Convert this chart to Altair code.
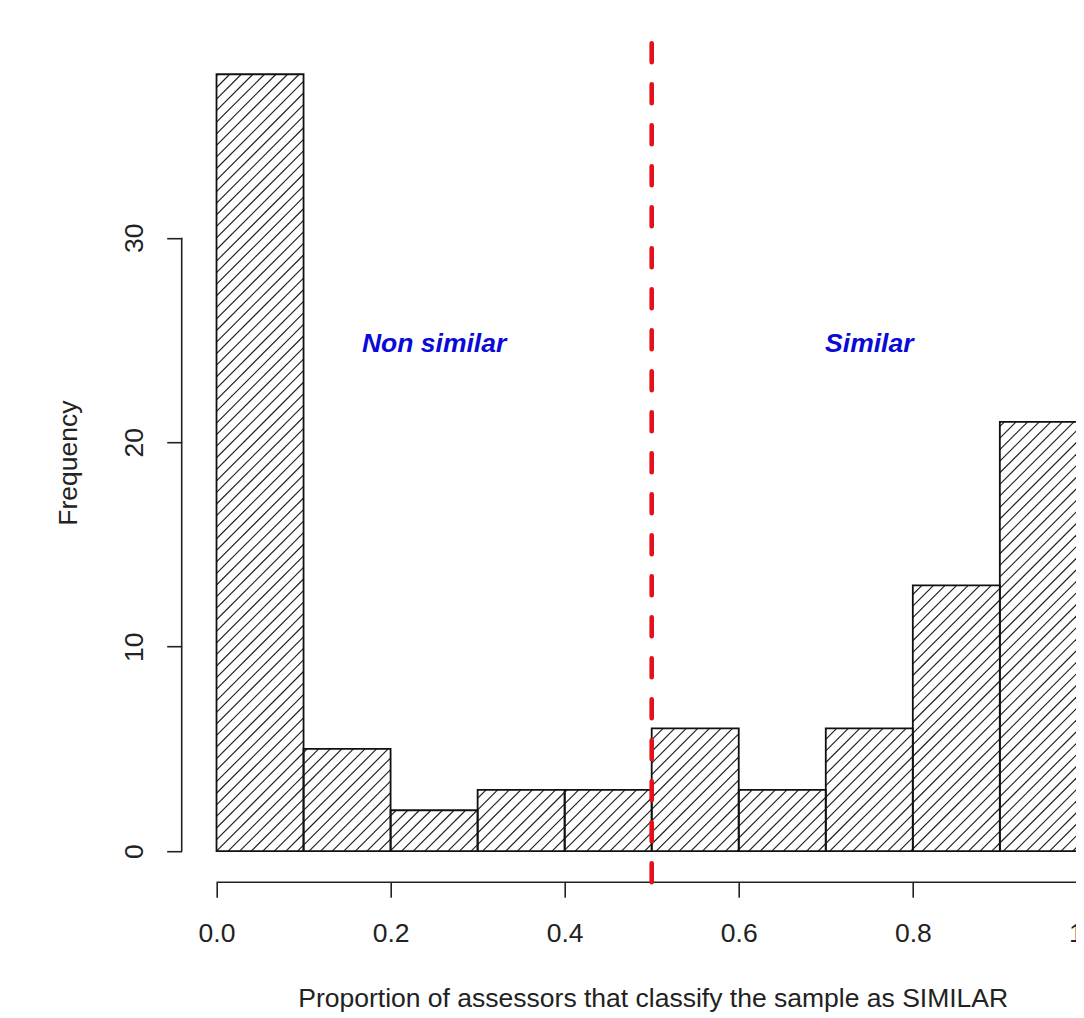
import altair as alt
import numpy as np
import pandas as pd

# ---------------- data ----------------
bin_start = [0.0, 0.1, 0.2, 0.3, 0.4, 0.5, 0.6, 0.7, 0.8, 0.9]
bin_end = [0.1, 0.2, 0.3, 0.4, 0.5, 0.6, 0.7, 0.8, 0.9, 1.0]
counts = [38, 5, 2, 3, 3, 6, 3, 6, 13, 21]
x_ticks = [0.0, 0.2, 0.4, 0.6, 0.8, 1.0]
y_ticks = [0, 10, 20, 30]
cutoff = [0.5]
label_text = ["Non similar", "Similar"]
label_x = [0.25, 0.75]
label_y = [25, 25]
x_title = "Proportion of assessors that classify the sample as SIMILAR"
y_title = "Frequency"

# ---------------- layout / style ----------------
W, H = 940, 839
X_DOM = [-0.04, 1.04]
Y_DOM = [-1.52, 39.52]
PXX = W / (X_DOM[1] - X_DOM[0])
PXY = H / (Y_DOM[1] - Y_DOM[0])
HATCH = 11.57  # px between hatch lines (horizontal)
FONT = "Liberation Sans"
FS = 26.5
INK = "#222222"
PAD_L, PAD_T = 173.7, 35.2
SVG_W, SVG_H = 1068, 1010

bars = pd.DataFrame({"x0": bin_start, "x1": bin_end, "n": counts,
                     "base": [0] * len(counts)})

# hatch segments (45 degree lines on a grid anchored at the origin, like R)
rows = []
for x0, x1, n in zip(bin_start, bin_end, counts):
    X0, X1, Hp = x0 * PXX, x1 * PXX, n * PXY
    k0 = int(np.ceil((X0 - Hp) / HATCH))
    k1 = int(np.floor(X1 / HATCH))
    for k in range(k0, k1 + 1):
        c = k * HATCH
        lo = max(0.0, X0 - c)
        hi = min(Hp, X1 - c)
        if hi - lo > 0.5:
            rows.append({"hx": (lo + c) / PXX, "hy": lo / PXY,
                         "hx2": (hi + c) / PXX, "hy2": hi / PXY})
hatch = pd.DataFrame(rows)

xs = alt.Scale(domain=X_DOM, nice=False, zero=False)
ys = alt.Scale(domain=Y_DOM, nice=False, zero=False)

x_axis = alt.Axis(values=x_ticks, format=".1f", title=x_title, domain=False,
                  grid=False, ticks=True, tickSize=15, tickWidth=1.6,
                  tickColor=INK, labelFont=FONT, labelFontSize=FS,
                  labelColor=INK, labelPadding=44, labelBaseline="alphabetic",
                  labelAlign="center", labelFlush=False, labelOverlap=False,
                  titleFont=FONT, titleFontSize=FS, titleFontWeight="normal",
                  titleColor=INK, titleX=471, titleY=124,
                  titleBaseline="alphabetic", titleAlign="center")
y_axis = alt.Axis(values=y_ticks, title=y_title, domain=False, grid=False,
                  ticks=True, tickSize=15, tickWidth=1.6, tickColor=INK,
                  labelFont=FONT, labelFontSize=FS, labelColor=INK,
                  labelAngle=270, labelAlign="center",
                  labelBaseline="alphabetic", labelPadding=24,
                  labelFlush=False, labelOverlap=False,
                  titleFont=FONT, titleFontSize=FS, titleFontWeight="normal",
                  titleColor=INK, titleAngle=270, titleX=-105, titleY=419.5,
                  titleBaseline="alphabetic", titleAlign="center")


def X(field):
    return alt.X(field, scale=xs, axis=x_axis, title=x_title)


def Y(field):
    return alt.Y(field, scale=ys, axis=y_axis, title=y_title)


hatch_layer = alt.Chart(hatch).mark_rule(color="#1e1e1e", strokeWidth=1.15).encode(
    x=X("hx:Q"), y=Y("hy:Q"), x2="hx2:Q", y2="hy2:Q",
)

bar_layer = alt.Chart(bars).mark_rect(
    fill="white", fillOpacity=0, stroke="#111111", strokeWidth=1.8
).encode(x=X("x0:Q"), x2="x1:Q", y=Y("n:Q"), y2="base:Q")

axes_df = pd.DataFrame({"xa": [x_ticks[0]], "xb": [x_ticks[-1]],
                        "ya": [y_ticks[0]], "yb": [y_ticks[-1]],
                        "xl": [X_DOM[0]], "yl": [Y_DOM[0]]})
x_line = alt.Chart(axes_df).mark_rule(color=INK, strokeWidth=1.6).encode(
    x=X("xa:Q"), x2="xb:Q", y=Y("yl:Q"),
)
y_line = alt.Chart(axes_df).mark_rule(color=INK, strokeWidth=1.6).encode(
    x=X("xl:Q"), y=Y("ya:Q"), y2="yb:Q",
)

cut_layer = alt.Chart(pd.DataFrame({"cut": cutoff})).mark_rule(
    color="#e3111b", strokeWidth=4.6, strokeDash=[19, 22], strokeCap="round"
).encode(x=X("cut:Q"))

labels = pd.DataFrame({"t": label_text, "lx": label_x, "ly": label_y})
text_layer = alt.Chart(labels).mark_text(
    font=FONT, fontSize=26.5, fontStyle="italic", fontWeight="bold",
    color="#0a0ad8", align="center", baseline="alphabetic", dy=12
).encode(x=X("lx:Q"), y=Y("ly:Q"), text="t:N")

chart = alt.layer(
    hatch_layer, bar_layer, x_line, y_line, cut_layer, text_layer
).properties(
    width=W, height=H,
    autosize=alt.AutoSizeParams(type="none"),
    padding={"left": PAD_L, "top": PAD_T,
             "right": SVG_W - PAD_L - W, "bottom": SVG_H - PAD_T - H},
).configure_view(strokeWidth=0)

chart.save("out.html", embed_options={"renderer": "svg", "actions": False})
